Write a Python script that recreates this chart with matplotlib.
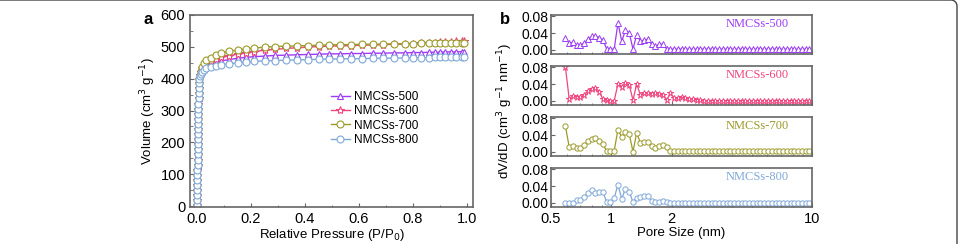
import matplotlib
matplotlib.use('Agg')
import matplotlib.pyplot as plt
import numpy as np
from matplotlib.ticker import MultipleLocator, FixedLocator, FixedFormatter, LogLocator, NullFormatter, FormatStrFormatter

plt.rcParams['font.family'] = ['Liberation Sans', 'DejaVu Sans']

# ---- panel a: N2 isotherms ----
pressure = [0.0010, 0.0011, 0.0012, 0.0013, 0.0014, 0.0015, 0.0016, 0.0017, 0.0018, 0.0019,
            0.0020, 0.0022, 0.0024, 0.0026, 0.0028, 0.0030, 0.0033, 0.0036, 0.0040, 0.0045,
            0.0050, 0.0056, 0.0063, 0.0071, 0.0080, 0.0090,
            0.011, 0.014, 0.018, 0.025,
            0.035, 0.050, 0.070, 0.090, 0.12, 0.15, 0.18, 0.21, 0.25, 0.29,
            0.33, 0.37, 0.41, 0.45, 0.49, 0.53, 0.57, 0.61, 0.65, 0.69,
            0.73, 0.77, 0.80, 0.83, 0.86, 0.88, 0.90, 0.92, 0.94, 0.96,
            0.98, 0.99]

vol_500 = [2, 18, 34, 50, 66, 82, 98, 114, 130, 146,
           162, 178, 194, 210, 226, 242, 258, 274, 290, 306,
           322, 338, 354, 370, 386, 400,
           410, 420, 428, 435,
           441, 447, 452, 456, 460, 464, 467, 469, 471, 473,
           474, 475, 476, 477, 478, 478, 479, 479, 480, 480,
           481, 481, 482, 482, 483, 483, 483, 484, 484, 484,
           485, 485]
vol_600 = [2, 18, 34, 50, 66, 82, 98, 114, 130, 146,
           162, 178, 194, 210, 226, 242, 258, 274, 290, 306,
           322, 338, 354, 370, 386, 400,
           411, 422, 432, 440,
           448, 455, 462, 467, 472, 477, 481, 485, 489, 492,
           495, 497, 499, 501, 502, 503, 504, 505, 506, 507,
           508, 509, 510, 511, 512, 513, 514, 515, 516, 517,
           518, 518]
vol_700 = [2, 18, 34, 50, 66, 82, 98, 114, 130, 146,
           162, 178, 194, 210, 226, 242, 258, 274, 290, 306,
           322, 338, 354, 370, 386, 400,
           412, 425, 437, 448,
           458, 466, 474, 480, 486, 490, 493, 496, 499, 501,
           502, 503, 504, 505, 506, 507, 507, 508, 508, 509,
           509, 510, 510, 511, 511, 511, 512, 512, 512, 513,
           513, 513]
vol_800 = [2, 18, 34, 50, 66, 82, 98, 114, 130, 146,
           162, 178, 194, 210, 226, 242, 258, 274, 290, 306,
           322, 338, 354, 370, 385, 398,
           407, 415, 421, 427,
           432, 437, 441, 444, 447, 450, 452, 454, 456, 457,
           458, 459, 460, 461, 462, 462, 463, 463, 464, 464,
           465, 465, 466, 466, 466, 467, 467, 467, 468, 468,
           468, 468]

# ---- panel b: pore size distributions ----
pore = [0.590, 0.616, 0.643, 0.671, 0.701, 0.732, 0.764, 0.798, 0.833, 0.869,
        0.908, 0.948, 0.989, 1.033, 1.078, 1.126, 1.175, 1.227, 1.281, 1.337,
        1.396, 1.458, 1.522, 1.589, 1.659, 1.731, 1.808, 1.887, 1.970, 2.057,
        2.147, 2.242, 2.340, 2.443, 2.551, 2.663, 2.780, 2.902, 3.030, 3.163,
        3.302, 3.447, 3.599, 3.758, 3.923, 4.096, 4.276, 4.464, 4.661, 4.866,
        5.080, 5.303, 5.537, 5.781, 6.035, 6.301, 6.578, 6.867, 7.170, 7.485,
        7.815, 8.159, 8.518, 8.892, 9.284, 9.692]

psd_500 = [0.028, 0.016, 0.018, 0.012, 0.012, 0.016, 0.025, 0.032, 0.034, 0.028,
           0.024, 0.002, 0.002, 0.002, 0.064, 0.021, 0.046, 0.041, 0.002, 0.036,
           0.020, 0.024, 0.025, 0.013, 0.009, 0.013, 0.014, 0.002, 0.002, 0.002,
           0.002, 0.002, 0.002, 0.002, 0.002, 0.002, 0.002, 0.002, 0.002, 0.002,
           0.002, 0.002, 0.002, 0.002, 0.002, 0.002, 0.002, 0.002, 0.002, 0.002,
           0.002, 0.002, 0.002, 0.002, 0.002, 0.002, 0.002, 0.002, 0.002, 0.002,
           0.002, 0.002, 0.002, 0.002, 0.002, 0.002]
psd_600 = [0.080, 0.005, 0.012, 0.010, 0.009, 0.015, 0.024, 0.028, 0.031, 0.022,
           0.004, 0.002, 0.001, 0.001, 0.040, 0.034, 0.042, 0.038, 0.002, 0.040,
           0.014, 0.019, 0.018, 0.016, 0.018, 0.017, 0.014, 0.003, 0.018, 0.007,
           0.006, 0.009, 0.008, 0.005, 0.005, 0.003, 0.002, 0.001, 0.001, 0.001,
           0.001, 0.001, 0.001, 0.001, 0.001, 0.001, 0.001, 0.001, 0.001, 0.001,
           0.001, 0.001, 0.001, 0.001, 0.001, 0.001, 0.001, 0.001, 0.001, 0.001,
           0.001, 0.001, 0.001, 0.001, 0.001, 0.001]
psd_700 = [0.061, 0.012, 0.013, 0.010, 0.009, 0.016, 0.025, 0.031, 0.033, 0.027,
           0.018, 0.002, 0.002, 0.003, 0.053, 0.035, 0.047, 0.042, 0.001, 0.045,
           0.021, 0.024, 0.024, 0.013, 0.010, 0.014, 0.016, 0.011, 0.002, 0.002,
           0.002, 0.002, 0.002, 0.002, 0.002, 0.002, 0.002, 0.002, 0.002, 0.002,
           0.002, 0.002, 0.002, 0.002, 0.002, 0.002, 0.002, 0.002, 0.002, 0.002,
           0.002, 0.002, 0.002, 0.002, 0.002, 0.002, 0.002, 0.002, 0.002, 0.002,
           0.002, 0.002, 0.002, 0.002, 0.002, 0.002]
psd_800 = [0.001, 0.001, 0.001, 0.006, 0.008, 0.014, 0.024, 0.031, 0.024, 0.026,
           0.025, 0.002, 0.002, 0.012, 0.043, 0.010, 0.033, 0.027, 0.002, 0.012,
           0.014, 0.016, 0.017, 0.004, 0.002, 0.003, 0.004, 0.002, 0.001, 0.001,
           0.001, 0.001, 0.001, 0.001, 0.001, 0.001, 0.001, 0.001, 0.001, 0.001,
           0.001, 0.001, 0.001, 0.001, 0.001, 0.001, 0.001, 0.001, 0.001, 0.001,
           0.001, 0.001, 0.001, 0.001, 0.001, 0.001, 0.001, 0.001, 0.001, 0.001,
           0.001, 0.001, 0.001, 0.001, 0.001, 0.001]

labels = ['NMCSs-500', 'NMCSs-600', 'NMCSs-700', 'NMCSs-800']
colors = ['#9b3cf5', '#f0457f', '#9c9a2a', '#7fa8d8']
markers = ['^', '*', 'o', 'o']

frame_col = '#666666'
W, H = 963, 244
fig = plt.figure(figsize=(W / 100, H / 100), dpi=100)

def style_frame(ax):
    for s in ax.spines.values():
        s.set_color(frame_col)
        s.set_linewidth(1.2)
    ax.tick_params(which='both', direction='in', color=frame_col, labelsize=10.5)
    ax.tick_params(which='major', length=3)
    ax.tick_params(which='minor', length=1.8)

# panel a
axa = fig.add_axes([190 / W, 1 - 207 / H, 283 / W, 192 / H])
vols = [vol_500, vol_600, vol_700, vol_800]
for v, lab, c, m in zip(vols, labels, colors, markers):
    axa.plot(pressure, v, color=c, lw=1.0, marker=m, ms=5 if m != '*' else 6,
             mfc='white', mec=c, mew=0.8, label=lab)
axa.set_xlim(-0.026, 1.022)
axa.set_ylim(-3, 600)
axa.xaxis.set_major_locator(MultipleLocator(0.2))
axa.xaxis.set_minor_locator(MultipleLocator(0.1))
axa.yaxis.set_major_locator(MultipleLocator(100))
axa.yaxis.set_minor_locator(MultipleLocator(50))
axa.xaxis.set_major_formatter(FormatStrFormatter('%.1f'))
style_frame(axa)
axa.set_xlabel('Relative Pressure (P/P$_0$)', fontsize=9.5, labelpad=1)
axa.set_ylabel('Volume (cm$^3$ g$^{-1}$)', fontsize=9.5, labelpad=2)
axa.legend(loc='upper left', bbox_to_anchor=(0.46, 0.66), frameon=False,
           fontsize=8.5, handlelength=1.6, labelspacing=0.2, handletextpad=0.4)
fig.text(143 / W, 1 - 20 / H, 'a', fontsize=12, fontweight='bold', va='center', ha='left')

# panel b
tops = [15, 66, 117, 168]
psds = [psd_500, psd_600, psd_700, psd_800]
axes_b = []
for i in range(4):
    ax = fig.add_axes([551 / W, 1 - (tops[i] + 39) / H, 261 / W, 39 / H])
    ax.plot(pore, psds[i], color=colors[i], lw=0.9, marker=markers[i],
            ms=3.8 if markers[i] != '*' else 5, mfc='white', mec=colors[i], mew=0.7)
    ax.set_xscale('log')
    ax.set_xlim(0.5, 10)
    ax.set_ylim(-0.0095, 0.0825)
    ax.set_yticks([0.0, 0.04, 0.08])
    ax.set_yticklabels(['0.00', '0.04', '0.08'])
    ax.xaxis.set_major_locator(FixedLocator([0.5, 1, 2, 10]))
    ax.xaxis.set_minor_locator(LogLocator(base=10, subs=np.arange(2, 10) * 0.1, numticks=20))
    ax.xaxis.set_minor_formatter(NullFormatter())
    style_frame(ax)
    ax.tick_params(axis='y', labelsize=10, pad=2)
    if i < 3:
        ax.xaxis.set_major_formatter(NullFormatter())
    else:
        ax.xaxis.set_major_formatter(FixedFormatter(['0.5', '1', '2', '10']))
    ax.text(0.79, 0.78, labels[i], transform=ax.transAxes, ha='center', va='center',
            color=colors[i], fontsize=9, family=['Liberation Serif', 'DejaVu Serif'])
    axes_b.append(ax)
axes_b[3].set_xlabel('Pore Size (nm)', fontsize=9.5, labelpad=1)
fig.text(505 / W, 1 - 111 / H, 'dV/dD (cm$^3$ g$^{-1}$ nm$^{-1}$)', rotation=90,
         fontsize=9.5, ha='center', va='center')
fig.text(500 / W, 1 - 20 / H, 'b', fontsize=12, fontweight='bold', va='center', ha='left')

# outer figure frame (right edge, rounded top corner)
ang = np.linspace(np.pi / 2, 0, 10)
fx = [0] + list(951 + 6 * np.cos(ang)) + [957]
fy = [0] + list(6 - 6 * np.sin(ang)) + [H]
fig.add_artist(plt.Line2D([x / W for x in fx], [1 - y / H for y in fy],
                          color='#444444', lw=1.0, transform=fig.transFigure))

fig.savefig('out.png', dpi=100)
